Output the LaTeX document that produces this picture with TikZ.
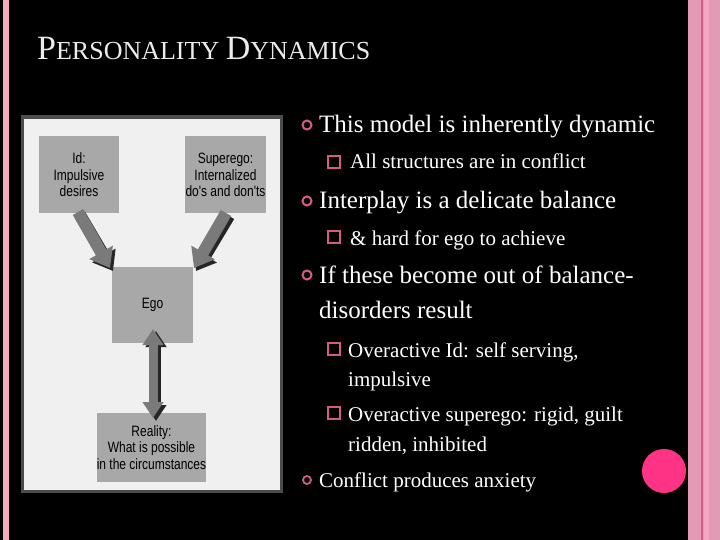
\documentclass[tikz,border=0pt]{standalone}
\usepackage{fontspec}
\setmainfont{Liberation Serif}
\newfontfamily\arialf[FakeStretch=0.8]{Liberation Sans}
\definecolor{pk}{HTML}{E39AB5}
\definecolor{pkl}{HTML}{F5A8C2}
\definecolor{pkd}{HTML}{D0608A}
\definecolor{bul}{HTML}{D65A88}
\definecolor{dot}{HTML}{FF3385}
\definecolor{bx}{HTML}{A8A8A8}
\definecolor{ar}{HTML}{7A7A7A}
\tikzset{
 gbox/.style={fill=bx,draw=none,font=\arialf\fontsize{15}{16.5}\selectfont,align=center,inner sep=0pt},
 big/.style={anchor=base west,text=white,font=\fontsize{25}{28}\selectfont,inner sep=0pt},
 mid/.style={anchor=base west,text=white,font=\fontsize{21}{24}\selectfont,inner sep=0pt},
 rb/.style={draw=bul,line width=2pt,circle,minimum size=9pt,inner sep=0pt},
 sb/.style={draw=bul,line width=1.6pt,minimum size=12pt,inner sep=0pt},
 fat/.style={line width=12pt,draw=ar,-{Triangle[length=18pt,width=26pt]}},
}
\usetikzlibrary{arrows.meta}
\begin{document}
\begin{tikzpicture}[x=1pt,y=-1pt]
\fill[black] (0,0) rectangle (720,540);
\useasboundingbox (0,0) rectangle (720,540);
\fill[pkl] (3,0) rectangle (9,540);
\fill[pk] (688,0) rectangle (720,540);
\fill[pkd] (701,0) rectangle (703,540);
\fill[pkl] (704,0) rectangle (709,540);
\fill[dot] (664,471) circle (22);
\node[anchor=base west,text=gray!15,inner sep=0pt] (title) at (37,60)
 {\fontsize{34}{36}\selectfont P\fontsize{26}{28}\selectfont ERSONALITY \fontsize{34}{36}\selectfont D\fontsize{26}{28}\selectfont YNAMICS};
% figure
\fill[gray!60!black] (21,115) rectangle (283,493);
\fill[gray!12] (24,119) rectangle (280,490);
\node[gbox,minimum width=80pt,minimum height=77pt] (id) at (79,175) {Id:\\Impulsive\\desires};
\node[gbox,minimum width=81pt,minimum height=77pt] (sup) at (225.5,175) {Superego:\\Internalized\\do's and don'ts};
\node[gbox,minimum width=81pt,minimum height=76pt] (ego) at (152.5,305) {Ego};
\node[gbox,minimum width=109pt,minimum height=69pt] (real) at (151.5,447.5) {Reality:\\What is possible\\in the circumstances};
\draw[fat,draw=black!85] (80,215) -- (113,271);
\draw[fat] (78,212) -- (110,268);
\draw[fat,draw=black!85] (229,216) -- (196,271);
\draw[fat] (226,213) -- (194,268);
\draw[line width=9pt,draw=black!85,{Triangle[length=16pt,width=20pt]}-{Triangle[length=16pt,width=20pt]}] (156,331) -- (156,421);
\draw[line width=9pt,draw=ar,{Triangle[length=16pt,width=20pt]}-{Triangle[length=16pt,width=20pt]}] (153,329) -- (153,418);
% text
\node[rb] (b1) at (307,125) {}; \node[big] (t1) at (319,133) {This model is inherently dynamic};
\node[sb] (s1) at (334,162) {}; \node[mid] (u1) at (350,169) {All structures are in conflict};
\node[rb] (b2) at (307,201) {}; \node[big] (t2) at (319,209) {Interplay is a delicate balance};
\node[sb] (s2) at (334,237) {}; \node[mid] (u2) at (350,245) {\& hard for ego to achieve};
\node[rb] (b3) at (307,275) {}; \node[big] (t3) at (319,283) {If these become out of balance-};
\node[big] (t3b) at (319,318) {disorders result};
\node[sb] (s3) at (334,349) {}; \node[mid] (u3) at (348,357) {Overactive Id: self serving,};
\node[mid] (u3b) at (348,386) {impulsive};
\node[sb] (s4) at (334,413) {}; \node[mid] (u4) at (348,421) {Overactive superego: rigid, guilt};
\node[mid] (u4b) at (348,451) {ridden, inhibited};
\node[rb,minimum size=8pt,line width=1.8pt] (b4) at (307,480) {}; \node[mid] (t4) at (319,487) {Conflict produces anxiety};
\end{tikzpicture}
\end{document}
